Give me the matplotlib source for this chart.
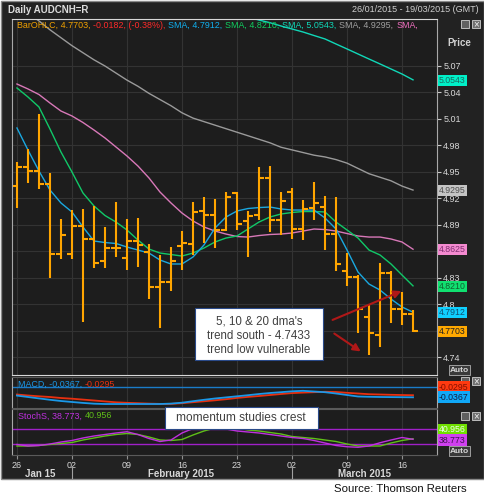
import matplotlib
matplotlib.use('Agg')
import matplotlib.pyplot as plt
from matplotlib.patches import Rectangle
from matplotlib.textpath import TextPath
from matplotlib.font_manager import FontProperties
import numpy as np

# Daily AUDCNH=R, 26/01/2015 - 17/03/2015 (one bar per trading day)
opens = [4.9344, 4.9553, 4.9514, 4.9360, 4.8567, 4.8567, 4.8891, 4.8741, 4.8495, 4.8642,
         4.8529, 4.8718, 4.8597, 4.8201, 4.8257, 4.8661, 4.8684, 4.9058, 4.9013, 4.8843,
         4.9258, 4.8945, 4.9013, 4.9428, 4.8956, 4.9270, 4.8851, 4.9088, 4.9107, 4.8797,
         4.8382, 4.8307, 4.7861, 4.7654, 4.8359, 4.7948, 4.7891]
highs = [4.9616, 4.9757, 5.0156, 4.9485, 4.8967, 4.9069, 4.9077, 4.9118, 4.8873, 4.9163,
         4.8967, 4.8975, 4.8684, 4.8560, 4.8650, 4.8831, 4.9156, 4.9213, 4.9197, 4.9270,
         4.9276, 4.9061, 4.9560, 4.9571, 4.9270, 4.9322, 4.9182, 4.9390, 4.9228, 4.9213,
         4.8579, 4.8333, 4.7993, 4.8466, 4.8378, 4.8144, 4.7937]
lows = [4.9088, 4.9372, 4.9307, 4.8303, 4.8514, 4.8514, 4.7797, 4.8416, 4.8409, 4.8534,
        4.8390, 4.8427, 4.8058, 4.7729, 4.8152, 4.8390, 4.8560, 4.8692, 4.8635, 4.8837,
        4.8843, 4.8540, 4.8956, 4.8823, 4.8786, 4.8741, 4.8729, 4.8956, 4.8622, 4.8382,
        4.8208, 4.7680, 4.7433, 4.7521, 4.7786, 4.7767, 4.7684]
closes = [4.9553, 4.9514, 4.9360, 4.8574, 4.8786, 4.8891, 4.8741, 4.8472, 4.8642, 4.8639,
          4.8718, 4.8673, 4.8201, 4.8257, 4.8495, 4.8690, 4.9043, 4.9013, 4.8843, 4.9220,
          4.8907, 4.9001, 4.9428, 4.8956, 4.9171, 4.8851, 4.9081, 4.9145, 4.8797, 4.8458,
          4.8307, 4.7945, 4.7673, 4.8359, 4.7948, 4.7891, 4.7703]

sma5 = [4.9998, 4.9749, 4.9511, 4.9296, 4.9149, 4.9047, 4.8877, 4.8718, 4.8701, 4.8690,
        4.8650, 4.8616, 4.8582, 4.8503, 4.8458, 4.8458, 4.8537, 4.8673, 4.8865, 4.8990,
        4.9058, 4.9086, 4.9097, 4.9103, 4.9081, 4.9069, 4.9069, 4.9069, 4.8979, 4.8854,
        4.8616, 4.8367, 4.8231, 4.8163, 4.8061, 4.7971, 4.7912]
sma10 = [5.0451, 5.0349, 5.0236, 4.9987, 4.9726, 4.9500, 4.9262, 4.9115, 4.9007, 4.8933,
         4.8843, 4.8729, 4.8627, 4.8582, 4.8565, 4.8548, 4.8582, 4.8639, 4.8707, 4.8752,
         4.8775, 4.8854, 4.8933, 4.8990, 4.9024, 4.9041, 4.9052, 4.9052, 4.9047, 4.8933,
         4.8843, 4.8752, 4.8616, 4.8560, 4.8458, 4.8333, 4.8210]
sma20 = [5.0496, 5.0440, 5.0377, 5.0281, 5.0190, 5.0134, 5.0060, 4.9975, 4.9885, 4.9783,
         4.9681, 4.9567, 4.9432, 4.9273, 4.9149, 4.9035, 4.8945, 4.8877, 4.8831, 4.8797,
         4.8769, 4.8763, 4.8780, 4.8792, 4.8797, 4.8809, 4.8831, 4.8854, 4.8848, 4.8831,
         4.8803, 4.8775, 4.8763, 4.8763, 4.8741, 4.8707, 4.8625]
sma_grey = [5.139, 5.130, 5.121, 5.111, 5.102, 5.093, 5.085, 5.077, 5.070, 5.062,
            5.054, 5.047, 5.039, 5.032, 5.025, 5.017, 5.011, 5.007, 5.003, 4.999,
            4.995, 4.991, 4.987, 4.983, 4.978, 4.975, 4.972, 4.969, 4.967, 4.964,
            4.960, 4.954, 4.948, 4.944, 4.940, 4.934, 4.9295]
sma_teal = [5.199, 5.196, 5.192, 5.189, 5.185, 5.182, 5.178, 5.175, 5.171, 5.168,
            5.164, 5.161, 5.157, 5.154, 5.150, 5.146, 5.143, 5.139, 5.136, 5.132,
            5.129, 5.1255, 5.122, 5.119, 5.1153, 5.1119, 5.1085, 5.1045, 5.1006, 5.0949,
            5.0893, 5.0836, 5.0779, 5.0723, 5.0666, 5.0609, 5.0543]

macd = [-0.0308, -0.0356, -0.0405, -0.0453, -0.0495, -0.0529, -0.0561, -0.0588, -0.0599, -0.0599,
        -0.0599, -0.0599, -0.0599, -0.0599, -0.0585, -0.0554, -0.0502, -0.0453, -0.0408, -0.0370,
        -0.0332, -0.0294, -0.0253, -0.0218, -0.0190, -0.0159, -0.0142, -0.0166, -0.0190, -0.0235,
        -0.0287, -0.0339, -0.0349, -0.0356, -0.0360, -0.0363, -0.0367]
signal = [-0.0270, -0.0304, -0.0332, -0.0356, -0.0391, -0.0415, -0.0446, -0.0477, -0.0509, -0.0540,
          -0.0557, -0.0571, -0.0585, -0.0595, -0.0595, -0.0571, -0.0536, -0.0505, -0.0471, -0.0433,
          -0.0388, -0.0353, -0.0322, -0.0287, -0.0253, -0.0221, -0.0204, -0.0190, -0.0176, -0.0183,
          -0.0211, -0.0235, -0.0260, -0.0270, -0.0280, -0.0288, -0.0295]

stoch_k = [18, 12, 14, 20, 28, 34, 44, 52, 58, 64,
           69, 58, 42, 30, 36, 64, 82, 88, 88, 80,
           72, 68, 64, 58, 52, 46, 42, 34, 24, 14,
           9, 7, 12, 25, 36, 46, 38.773]
stoch_d = [12, 12, 14, 18, 22, 26, 36, 44, 52, 58,
           62, 58, 48, 36, 34, 38, 56, 72, 84, 88,
           84, 76, 72, 66, 60, 50, 46, 42, 36, 30,
           20, 12, 12, 12, 24, 34, 40.956]

tick_idx = [0, 5, 10, 15, 20, 25, 30, 35]
tick_lbl = ['26', '02', '09', '16', '23', '02', '09', '16']
# 4.86 and 4.77 sit behind the value boxes in the original
price_ticks = [4.74, 4.77, 4.80, 4.83, 4.86, 4.89, 4.92, 4.95, 4.98, 5.01, 5.04, 5.07]
price_lbls = ['4.74', '', '4.8', '4.83', '', '4.89', '4.92', '4.95', '4.98', '5.01', '5.04', '5.07']

ORANGE = '#ffa500'
C5, C10, C20, CGREY, CTEAL = '#1aa8e0', '#10c868', '#d878b8', '#9a9a9a', '#10d8b8'
BG = '#1d1d1d'
FONT = ['Liberation Sans', 'DejaVu Sans']

plt.rcParams['font.family'] = FONT

W, H = 485, 498
fig = plt.figure(figsize=(W / 100, H / 100), dpi=100)
fig.patch.set_facecolor('white')


def rect(x0, y0, x1, y1):
    return [x0 / W, 1 - y1 / H, (x1 - x0) / W, (y1 - y0) / H]


def fbox(x0, y0, x1, y1, **kw):
    fig.add_artist(Rectangle((x0 / W, 1 - y1 / H), (x1 - x0) / W, (y1 - y0) / H,
                             transform=fig.transFigure, **kw))


def ftext(x, y, s, **kw):
    return fig.text(x / W, 1 - y / H, s, **kw)


# window background
fbox(0.5, 0.5, 484.5, 478.5, fc='#222222', ec='#8a8a8a', lw=1, zorder=0)

ax = fig.add_axes(rect(12, 19, 437, 375))
ax_m = fig.add_axes(rect(12, 377, 437, 408))
ax_s = fig.add_axes(rect(12, 409, 437, 455))

x = np.arange(len(closes))
for a in (ax, ax_m, ax_s):
    a.set_facecolor(BG)
    a.set_xlim(-0.45, 38.18)
    a.set_xticks(tick_idx)
    a.grid(True, color='#333333', lw=0.8)
    a.set_axisbelow(True)
    a.tick_params(axis='x', length=0, labelbottom=False)
    for s in a.spines.values():
        s.set_color('#5a5a5a')
        s.set_linewidth(0.8)
    a.spines['left'].set_color('#a8a8a8')
    a.spines['right'].set_color('#a8a8a8')

# main price panel
ax.spines['top'].set_color('#d8d8d8')
ax.spines['bottom'].set_color('#d8d8d8')
ax.set_ylim(4.7201, 5.1232)
ax.yaxis.tick_right()
ax.set_yticks(price_ticks)
ax.set_yticklabels(price_lbls)
ax.tick_params(axis='y', length=3, width=0.8, color='#c8c8c8', labelcolor='#d8d8d8',
               labelsize=6.5, pad=1.5)

ax.plot(x, sma_grey, color=CGREY, lw=1.0)
ax.plot(x, sma_teal, color=CTEAL, lw=1.0)
ax.plot(x, sma20, color=C20, lw=1.0)
ax.plot(x, sma10, color=C10, lw=1.0)
ax.plot(x, sma5, color=C5, lw=1.0)
ax.vlines(x, lows, highs, color=ORANGE, lw=1.5)
ax.hlines(opens, x - 0.45, x, color=ORANGE, lw=1.5)
ax.hlines(closes, x, x + 0.45, color=ORANGE, lw=1.5)

# last value boxes
for val, txt, fc, tc in [(sma_teal[-1], '5.0543', '#00f0c8', '#1a6a60'),
                         (sma_grey[-1], '4.9295', '#c4c4c4', '#505050'),
                         (sma20[-1], '4.8625', '#f48ad0', '#803070'),
                         (sma10[-1], '4.8210', '#10e070', '#106030'),
                         (sma5[-1], '4.7912', '#10d0ff', '#105070'),
                         (closes[-1], '4.7703', '#ffa800', '#202020')]:
    ax.annotate(txt, xy=(1, val), xycoords=('axes fraction', 'data'),
                xytext=(1.5, -0.5), textcoords='offset points', va='center', ha='left',
                fontsize=6.3, color=tc, annotation_clip=False,
                bbox=dict(boxstyle='square,pad=0.12', fc=fc, ec='none'))

# MACD panel
ax_m.set_ylim(-0.0737, 0.0336)
ax_m.set_yticks([])
ax_m.axhline(0, color='#1a7cc8', lw=1.0)
ax_m.plot(x, signal, color='#e83010', lw=1.3)
ax_m.plot(x, macd, color='#1a98e8', lw=1.3)

# Stochastic panel
ax_s.set_ylim(-24, 160)
ax_s.set_yticks([])
ax_s.axhline(80, color='#a020c8', lw=1.0)
ax_s.axhline(20, color='#a020c8', lw=1.0)
ax_s.plot(x, stoch_d, color='#60c018', lw=1.0)
ax_s.plot(x, stoch_k, color='#c030e0', lw=1.0)
ax_s.tick_params(axis='x', length=3, color='#909090', labelbottom=True, labelsize=6.5,
                 labelcolor='#d8d8d8', pad=1)
ax_s.set_xticklabels(tick_lbl)

# month labels
for xm, s in [(40, 'Jan 15'), (181, 'February 2015'), (365, 'March 2015')]:
    ftext(xm, 474, s, ha='center', va='center', fontsize=7, fontweight='bold', color='#d8d8d8')
for xs in (72, 292):
    fig.add_artist(plt.Line2D([xs / W, xs / W], [1 - 466 / H, 1 - 478 / H],
                              transform=fig.transFigure, color='#a0a0a0', lw=0.8))

# titles
ftext(8, 10, 'Daily AUDCNH=R', ha='left', va='center', fontsize=7, fontweight='bold', color='#dcdcdc')
ftext(479, 10, '26/01/2015 - 19/03/2015 (GMT)', ha='right', va='center', fontsize=6.5, color='#d0d0d0')
ftext(447, 43, 'Price', ha='left', va='center', fontsize=7, fontweight='bold', color='#d0d0d0')

fp = FontProperties(family=FONT)


def chain(x0, y0, parts, size=6.4, gap=4):
    # multi coloured caption, one piece after the other
    xp = x0
    for s, c in parts:
        ftext(xp, y0, s, ha='left', va='center', fontsize=size, color=c, zorder=5)
        w_pt = TextPath((0, 0), s, size=size, prop=fp).get_extents().x1
        xp += w_pt * 100 / 72 + gap


chain(17, 25, [('BarOHLC, 4.7703,', '#f0a000'), ('-0.0182, (-0.38%),', '#ff2a2a'),
               ('SMA, 4.7912,', '#10b0f0'), ('SMA, 4.8210,', '#10d060'),
               ('SMA, 5.0543,', '#10d8b8'), ('SMA, 4.9295,', '#a0a0a0'), ('SMA,', '#f070c0')])
chain(18, 384, [('MACD, -0.0367,', '#1a98e8'), ('-0.0295', '#e83010')])
chain(18, 416, [('StochS, 38.773,', '#c030e0'), ('40.956', '#60c018')])

# side value boxes of the lower panels
for yb, txt, fc, tc in [(387, '-0.0295', '#ff3a10', '#801000'), (397, '-0.0367', '#10a8f8', '#102040'),
                        (430, '40.956', '#70e000', '#f0fff0'), (440, '38.773', '#d040f0', '#401050')]:
    ftext(439, yb, txt, ha='left', va='center', fontsize=6.3, color=tc,
          bbox=dict(boxstyle='square,pad=0.15', fc=fc, ec='none'))

# Auto buttons and window icons
for ya in (370, 451):
    ftext(450, ya, 'Auto', ha='left', va='center', fontsize=6, fontweight='bold', color='#d8d8d8',
          bbox=dict(boxstyle='square,pad=0.15', fc='#3a3a3a', ec='#b0b0b0', lw=0.6))
for yi in (20, 377, 412):
    fbox(461, yi, 469, yi + 8, fc='#606060', ec='#d0d0d0', lw=0.6)
    fbox(472, yi, 480, yi + 8, fc='#707070', ec='#d0d0d0', lw=0.6)
    ftext(476, yi + 4, '×', ha='center', va='center', fontsize=7, color='#f0f0f0')

# annotation boxes
fbox(195, 308, 323, 360, fc='white', ec='#2a4a8a', lw=0.8, zorder=6)
for yl, s in [(321, "5, 10 & 20 dma's"), (336, 'trend south - 4.7433'), (350, 'trend low vulnerable')]:
    ftext(259, yl, s, ha='center', va='center', fontsize=8.3, color='#404040', zorder=7)
fbox(165, 407, 318, 429, fc='white', ec='#2a4a8a', lw=0.8, zorder=6)
ftext(241, 418, 'momentum studies crest', ha='center', va='center', fontsize=8.6, color='#404040', zorder=7)

# red arrows
for (x0, y0), (x1, y1) in [((330, 321), (404, 290)), ((332, 332), (363, 353))]:
    ax.annotate('', xy=(x1, H - y1), xycoords='figure pixels', xytext=(x0, H - y0),
                textcoords='figure pixels',
                arrowprops=dict(arrowstyle='-|>', color='#b01818', lw=1.5, mutation_scale=11),
                annotation_clip=False)

ftext(467, 489, 'Source: Thomson Reuters', ha='right', va='center', fontsize=8.2, color='#111111')

fig.savefig('out.png', dpi=100)
